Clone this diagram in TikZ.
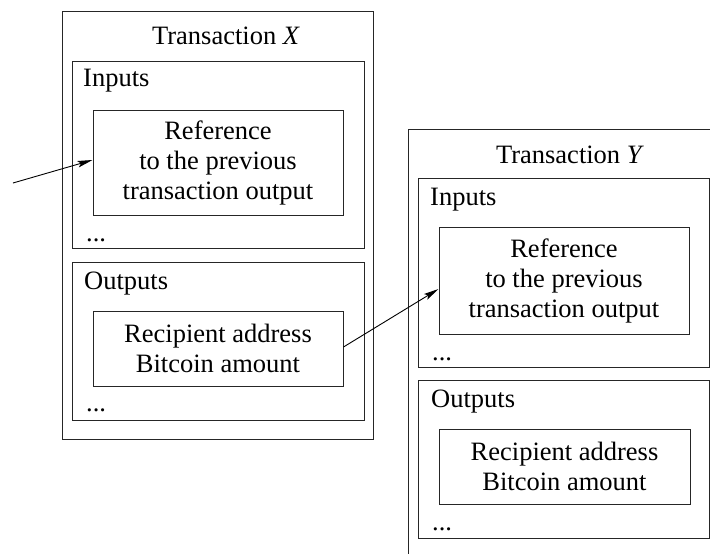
\documentclass[tikz,border=0pt]{standalone}
\usepackage{fontspec}
\setmainfont{Liberation Serif}[Ligatures=TeX]
\newfontfamily\trfont{Liberation Serif}
\usetikzlibrary{arrows.meta}
\begin{document}
\begin{tikzpicture}[x=1pt,y=-1pt,
  box/.style={draw=black!85, line width=1pt, rectangle, inner sep=0pt},
  lbl/.style={inner sep=0pt, font=\trfont\fontsize{26.5}{30}\selectfont},
  txt/.style={align=center, font=\trfont\fontsize{26.5}{30}\selectfont},
  arr/.style={line width=0.9pt, -{Stealth[length=15pt,width=6.5pt,inset=3pt]}}]
\useasboundingbox (0,0) rectangle (710,554);
\clip (0,0) rectangle (710,554);
% Transaction X
\node[box, minimum width=311pt, minimum height=428pt] (xouter) at (217.5,225) {};
\node[box, minimum width=292pt, minimum height=187pt] (xin) at (218,154.5) {};
\node[box, minimum width=250pt, minimum height=105pt, txt] (xref) at (218,162.5) {Reference\\to the previous\\transaction output};
\node[box, minimum width=292pt, minimum height=158pt] (xout) at (218,341) {};
\node[box, minimum width=250pt, minimum height=75pt, txt] (xrec) at (218,348.5) {Recipient address\\Bitcoin amount};
\node[lbl, anchor=base] (xtitle) at (226,45) {Transaction \textit{X}};
\node[lbl, anchor=base west] (xinl) at (83,86) {Inputs};
\node[lbl, anchor=base west] (xoutl) at (84,289) {Outputs};
\node[lbl, anchor=base west] (xind) at (86,241) {...};
\node[lbl, anchor=base west] (xoutd) at (86,411) {...};
% Transaction Y
\node[box, minimum width=311pt, minimum height=428pt] (youter) at (563.5,343) {};
\node[box, minimum width=291pt, minimum height=189pt] (yin) at (563.5,272.5) {};
\node[box, minimum width=250pt, minimum height=107pt, txt] (yref) at (564,280.5) {Reference\\to the previous\\transaction output};
\node[box, minimum width=291pt, minimum height=158pt] (yout) at (563.5,459) {};
\node[box, minimum width=251pt, minimum height=75pt, txt] (yrec) at (564.5,466.5) {Recipient address\\Bitcoin amount};
\node[lbl, anchor=base] (ytitle) at (570,163) {Transaction \textit{Y}};
\node[lbl, anchor=base west] (yinl) at (430,205) {Inputs};
\node[lbl, anchor=base west] (youtl) at (431,407) {Outputs};
\node[lbl, anchor=base west] (yind) at (432,360) {...};
\node[lbl, anchor=base west] (youtd) at (432,530) {...};
% connectors
\coordinate (start) at (13,183);
\draw[arr] (start) -- (xref.west |- 0,160);
\draw[arr] (xrec.east |- 0,347) -- (yref.west |- 0,289);
\end{tikzpicture}
\end{document}
